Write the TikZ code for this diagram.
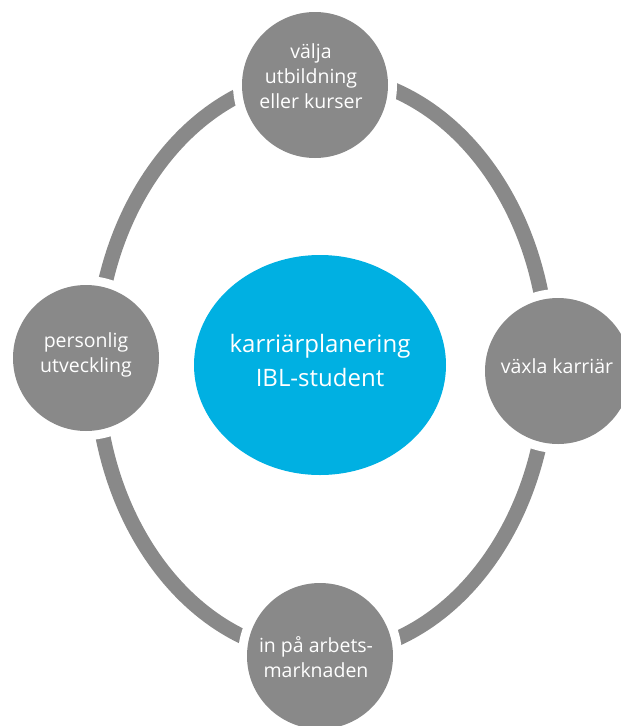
\documentclass[tikz,border=0pt]{standalone}
\usepackage{fontspec}
\setmainfont{Open Sans}
\usetikzlibrary{shapes.geometric}
\definecolor{ringgray}{RGB}{137,137,137}
\definecolor{hubblue}{RGB}{0,176,226}
\begin{document}
\begin{tikzpicture}[x=1pt,y=-1pt,
  stage/.style={circle, fill=ringgray, minimum size=146pt, inner sep=0pt,
    preaction={draw=white, line width=18pt}},
  hub/.style={ellipse, fill=hubblue, minimum width=252pt, minimum height=220pt, inner sep=0pt},
  lbl/.style={text=white, align=center, inner sep=0pt, font=\fontsize{19.5}{25}\selectfont},
  hublbl/.style={text=white, align=center, inner sep=0pt, font=\fontsize{24}{34}\selectfont},
  ring/.style={draw=ringgray, line width=15pt}]
\useasboundingbox (0,0) rectangle (621,726);
\coordinate (c) at (322,365);
\draw[ring] (c) ellipse [x radius=226pt, y radius=290pt];
\node[stage] (top) at (315,85) {};
\node[stage] (left) at (86,358) {};
\node[stage] (right) at (558,371) {};
\node[stage] (bottom) at (320,656) {};
\node[hub] (hub) at (320,365) {};
\node[lbl] (toptext) at (311,76) {välja\\utbildning\\eller kurser};
\node[lbl] (lefttext) at (86,355) {personlig\\utveckling};
\node[lbl] (righttext) at (557,366) {växla karriär};
\node[lbl] (bottomtext) at (316,657) {in på arbets-\\marknaden};
\node[hublbl] (hubtext) at (320,360) {karriärplanering\\IBL-student};
\end{tikzpicture}
\end{document}
